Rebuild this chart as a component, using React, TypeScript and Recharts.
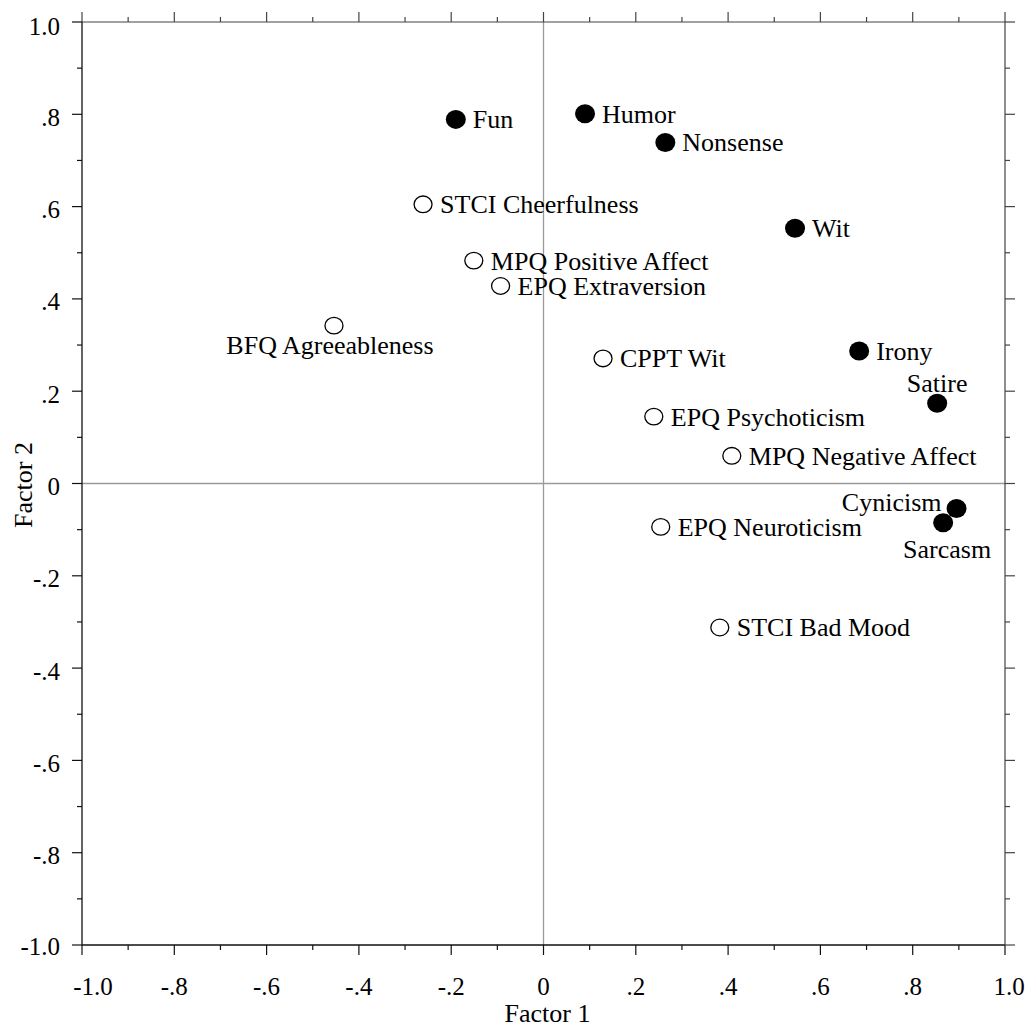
import React from 'react';
import { ScatterChart, Scatter, XAxis, YAxis, ReferenceLine, Label } from 'recharts';

// humor styles (filled markers)
const humorNames = ['Fun', 'Humor', 'Nonsense', 'Wit', 'Irony', 'Satire', 'Cynicism', 'Sarcasm'];
const humorF1 = [-0.19, 0.09, 0.264, 0.545, 0.684, 0.853, 0.895, 0.866];
const humorF2 = [0.789, 0.801, 0.739, 0.553, 0.287, 0.174, -0.054, -0.085];

// personality measures (open markers)
const scaleNames = [
    'STCI Cheerfulness',
    'MPQ Positive Affect',
    'EPQ Extraversion',
    'BFQ Agreeableness',
    'CPPT Wit',
    'EPQ Psychoticism',
    'MPQ Negative Affect',
    'EPQ Neuroticism',
    'STCI Bad Mood',
];
const scaleF1 = [-0.261, -0.151, -0.093, -0.454, 0.129, 0.239, 0.408, 0.254, 0.382];
const scaleF2 = [0.605, 0.483, 0.428, 0.342, 0.271, 0.145, 0.06, -0.094, -0.312];

const tickValues = [-1, -0.9, -0.8, -0.7, -0.6, -0.5, -0.4, -0.3, -0.2, -0.1, 0, 0.1, 0.2, 0.3, 0.4, 0.5, 0.6, 0.7, 0.8, 0.9, 1];
const majorValues = [-1, -0.8, -0.6, -0.4, -0.2, 0, 0.2, 0.4, 0.6, 0.8, 1];
const majorLabels = ['-1.0', '-.8', '-.6', '-.4', '-.2', '0', '.2', '.4', '.6', '.8', '1.0'];

const humorData = humorNames.map((name, i) => ({ name, x: humorF1[i], y: humorF2[i] }));
const scaleData = scaleNames.map((name, i) => ({ name, x: scaleF1[i], y: scaleF2[i] }));

const FONT = '"Liberation Serif", "Times New Roman", Times, serif';
const DARK = '#111';
const GREY = '#444';
const textStyle = { fontFamily: FONT };

const majorIndex = (v: number) => majorValues.findIndex(m => Math.abs(m - v) < 1e-6);

const BottomTick = (p: any) => {
    const { x, y, payload } = p;
    const i = majorIndex(payload.value);
    const dx = i === 0 ? 11 : i === majorValues.length - 1 ? 4 : 0;
    return (
        <g>
            <line x1={x} x2={x} y1={y} y2={y + (i >= 0 ? 10 : 5)} stroke={DARK} strokeWidth={1.2} />
            {i >= 0 && (
                <text x={x + dx} y={y + 50} textAnchor="middle" fontSize={25} style={textStyle} fill="#000">
                    {majorLabels[i]}
                </text>
            )}
        </g>
    );
};

const LeftTick = (p: any) => {
    const { x, y, payload } = p;
    const i = majorIndex(payload.value);
    const dy = i === 0 ? 10 : i === majorValues.length - 1 ? 13 : 11.5;
    return (
        <g>
            <line x1={x - (i >= 0 ? 10 : 5)} x2={x} y1={y} y2={y} stroke={DARK} strokeWidth={1.2} />
            {i >= 0 && (
                <text x={x - 22} y={y + dy} textAnchor="end" fontSize={25} style={textStyle} fill="#000">
                    {majorLabels[i]}
                </text>
            )}
        </g>
    );
};

const TopTick = (p: any) => {
    const { x, y, payload } = p;
    const len = majorIndex(payload.value) >= 0 ? 10 : 5;
    return <line x1={x} x2={x} y1={y - len} y2={y} stroke={GREY} strokeWidth={1.2} />;
};

const RightTick = (p: any) => {
    const { x, y, payload } = p;
    const len = majorIndex(payload.value) >= 0 ? 10 : 5;
    return <line x1={x} x2={x + len} y1={y} y2={y} stroke={GREY} strokeWidth={1.2} />;
};

// where a label sits relative to its marker, by name
const labelPlacement: Record<string, { dx: number; dy: number; anchor: 'start' | 'middle' | 'end' }> = {
    'BFQ Agreeableness': { dx: -4, dy: 28, anchor: 'middle' },
    Satire: { dx: 0, dy: -11.5, anchor: 'middle' },
    Cynicism: { dx: -15, dy: 2.5, anchor: 'end' },
    Sarcasm: { dx: 4, dy: 35, anchor: 'middle' },
};

const PointLabel = ({ cx, cy, name }: { cx: number; cy: number; name: string }) => {
    const pl = labelPlacement[name] || { dx: 17, dy: 9, anchor: 'start' };
    return (
        <text x={cx + pl.dx} y={cy + pl.dy} textAnchor={pl.anchor} fontSize={26} style={textStyle} fill="#000">
            {name}
        </text>
    );
};

const FilledDot = (p: any) => (
    <g>
        <ellipse cx={p.cx} cy={p.cy} rx={10} ry={9.5} fill="#000" />
        <PointLabel cx={p.cx} cy={p.cy} name={p.payload.name} />
    </g>
);

const OpenDot = (p: any) => (
    <g>
        <ellipse cx={p.cx} cy={p.cy} rx={9} ry={8.3} fill="#fff" stroke="#000" strokeWidth={1.3} />
        <PointLabel cx={p.cx} cy={p.cy} name={p.payload.name} />
    </g>
);

const Nothing = () => <g />;

export default function App() {
    return (
        <div style={{ width: 1030, height: 1027, background: '#fff' }}>
            <style>{'body{margin:0}'}</style>
            <ScatterChart width={1030} height={1027} margin={{ top: 0, right: 0, bottom: 0, left: 0 }}>
                <XAxis
                    xAxisId="b"
                    type="number"
                    dataKey="x"
                    domain={[-1, 1]}
                    ticks={tickValues}
                    interval={0}
                    height={82}
                    tickSize={0}
                    tickMargin={0}
                    tickLine={false}
                    axisLine={{ stroke: DARK, strokeWidth: 1.3 }}
                    tick={<BottomTick />}
                >
                    <Label
                        content={(props: any) => {
                            const vb = props.viewBox;
                            return (
                                <text x={vb.x + vb.width / 2 + 4} y={vb.y + 77} textAnchor="middle" fontSize={26} style={textStyle} fill="#000">
                                    Factor 1
                                </text>
                            );
                        }}
                    />
                </XAxis>
                <XAxis
                    xAxisId="t"
                    orientation="top"
                    type="number"
                    dataKey="x"
                    domain={[-1, 1]}
                    ticks={tickValues}
                    interval={0}
                    height={22}
                    tickSize={0}
                    tickMargin={0}
                    tickLine={false}
                    axisLine={{ stroke: GREY, strokeWidth: 1.2 }}
                    tick={<TopTick />}
                />
                <YAxis
                    yAxisId="l"
                    type="number"
                    dataKey="y"
                    domain={[-1, 1]}
                    ticks={tickValues}
                    interval={0}
                    width={82}
                    tickSize={0}
                    tickMargin={0}
                    tickLine={false}
                    axisLine={{ stroke: DARK, strokeWidth: 1.3 }}
                    tick={<LeftTick />}
                >
                    <Label
                        content={(props: any) => {
                            const vb = props.viewBox;
                            const cx = vb.x + 32;
                            const cy = vb.y + vb.height / 2 + 1.5;
                            return (
                                <text x={cx} y={cy} transform={`rotate(-90 ${cx} ${cy})`} textAnchor="middle" fontSize={26} style={textStyle} fill="#000">
                                    Factor 2
                                </text>
                            );
                        }}
                    />
                </YAxis>
                <YAxis
                    yAxisId="r"
                    orientation="right"
                    type="number"
                    dataKey="y"
                    domain={[-1, 1]}
                    ticks={tickValues}
                    interval={0}
                    width={25}
                    tickSize={0}
                    tickMargin={0}
                    tickLine={false}
                    axisLine={{ stroke: GREY, strokeWidth: 1.2 }}
                    tick={<RightTick />}
                />
                <ReferenceLine xAxisId="b" yAxisId="l" x={0} stroke="#9a9a9a" strokeWidth={1.3} />
                <ReferenceLine xAxisId="b" yAxisId="l" y={0} stroke="#9a9a9a" strokeWidth={1.3} />
                <Scatter xAxisId="t" yAxisId="r" data={[...humorData, ...scaleData]} shape={<Nothing />} isAnimationActive={false} />
                <Scatter xAxisId="b" yAxisId="l" data={scaleData} shape={<OpenDot />} isAnimationActive={false} />
                <Scatter xAxisId="b" yAxisId="l" data={humorData} shape={<FilledDot />} isAnimationActive={false} />
            </ScatterChart>
        </div>
    );
}
